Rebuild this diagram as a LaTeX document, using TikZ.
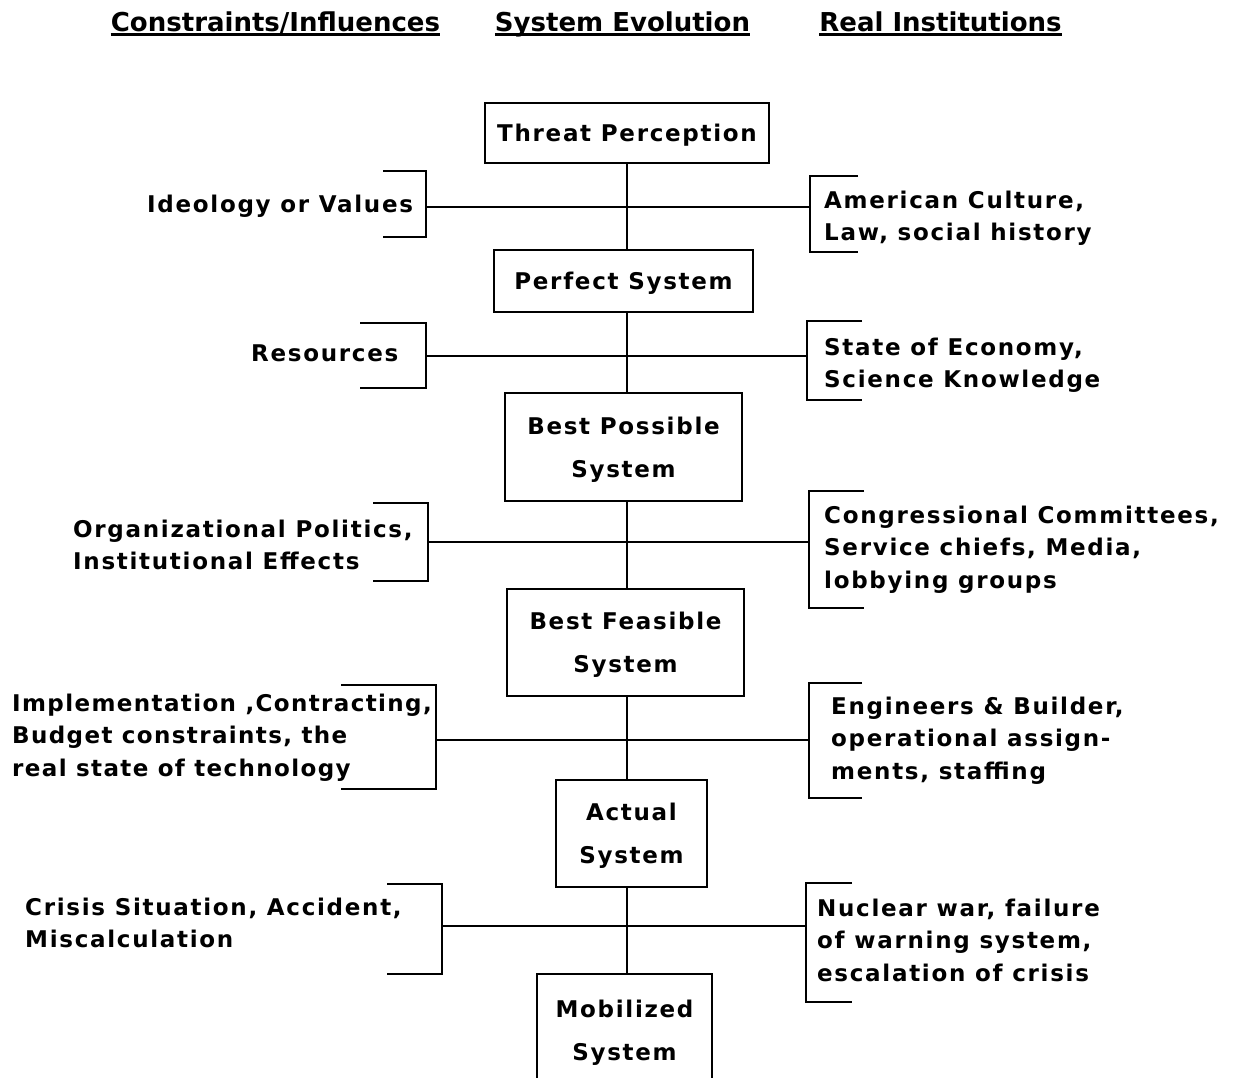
\documentclass[tikz,border=0pt]{standalone}
\usepackage{fontspec}
\setmainfont{DejaVu Sans}
\newfontfamily\bodyfont[LetterSpace=7.4]{DejaVu Sans}
\newfontfamily\tightfont[LetterSpace=6]{DejaVu Sans}
\newfontfamily\hdrfont{DejaVu Sans}
\tikzset{
  lab/.style={font=\bodyfont\bfseries\fontsize{23}{32.3}\selectfont, inner sep=0pt, anchor=north west, align=left},
  tightlab/.style={lab, font=\tightfont\bfseries\fontsize{23}{32.3}\selectfont},
  sysbox/.style={draw, line width=2pt, inner sep=0pt, text depth=0pt, align=center,
    font=\bodyfont\bfseries\fontsize{23}{43}\selectfont},
  hdr/.style={font=\hdrfont\bfseries\fontsize{26}{30}\selectfont, inner sep=0pt, anchor=base},
  ln/.style={line width=2pt},
  uline/.style={line width=2.5pt}
}
\begin{document}
\begin{tikzpicture}[x=1pt,y=-1pt]
\fill[white] (0,0) rectangle (1237,1078);
\useasboundingbox (0,0) rectangle (1237,1078);

% headers
\node[hdr] (h1) at (275.5,31.5) {Constraints/Influences};
\node[hdr] (h2) at (622.5,31.5) {System Evolution};
\node[hdr] (h3) at (940.5,31.5) {Real Institutions};
\draw[uline] ([yshift=-3pt]h1.base west) -- ([yshift=-3pt]h1.base east);
\draw[uline] ([yshift=-3pt]h2.base west) -- ([yshift=-3pt]h2.base east);
\draw[uline] ([yshift=-3pt]h3.base west) -- ([yshift=-3pt]h3.base east);

% system boxes
\node[sysbox, minimum width=284pt, minimum height=60pt] (tp) at (627,133) {Threat Perception};
\node[sysbox, minimum width=259pt, minimum height=62pt] (ps) at (623.5,281) {Perfect System};
\node[sysbox, minimum width=237pt, minimum height=108pt] (bp) at (623.5,447) {Best Possible\\System};
\node[sysbox, minimum width=237pt, minimum height=107pt] (bf) at (625.5,642.5) {Best Feasible\\System};
\node[sysbox, minimum width=151pt, minimum height=107pt] (as) at (631.5,833.5) {Actual\\System};
\node[sysbox, draw=none, minimum width=173pt, minimum height=110pt] (mob) at (624.5,1030) {Mobilized\\System};
\draw[ln] (mob.south west) -- (mob.north west) -- (mob.north east) -- (mob.south east);

% junctions
\coordinate (j1) at (627,207);
\coordinate (j2) at (627,356);
\coordinate (j3) at (627,542);
\coordinate (j4) at (627,740);
\coordinate (j5) at (627,926);

\draw[ln] (j1 |- tp.south) -- (j1 |- ps.north);
\draw[ln] (j2 |- ps.south) -- (j2 |- bp.north);
\draw[ln] (j3 |- bp.south) -- (j3 |- bf.north);
\draw[ln] (j4 |- bf.south) -- (j4 |- as.north);
\draw[ln] (j5 |- as.south) -- (j5 |- mob.north);

% row 1
\coordinate (L1t) at (383,171); \coordinate (L1a) at (426,171); \coordinate (L1m) at (426,207); \coordinate (L1b) at (426,237); \coordinate (L1u) at (383,237);
\coordinate (R1t) at (858,176); \coordinate (R1a) at (810,176); \coordinate (R1m) at (810,207); \coordinate (R1b) at (810,252); \coordinate (R1u) at (858,252);
% row 2
\coordinate (L2t) at (360,323); \coordinate (L2a) at (426,323); \coordinate (L2m) at (426,356); \coordinate (L2b) at (426,388); \coordinate (L2u) at (360,388);
\coordinate (R2t) at (862,321); \coordinate (R2a) at (807,321); \coordinate (R2m) at (807,356); \coordinate (R2b) at (807,400); \coordinate (R2u) at (862,400);
% row 3
\coordinate (L3t) at (373,503); \coordinate (L3a) at (428,503); \coordinate (L3m) at (428,542); \coordinate (L3b) at (428,581); \coordinate (L3u) at (373,581);
\coordinate (R3t) at (864,491); \coordinate (R3a) at (809,491); \coordinate (R3m) at (809,542); \coordinate (R3b) at (809,608); \coordinate (R3u) at (864,608);
% row 4
\coordinate (L4t) at (341,685); \coordinate (L4a) at (436,685); \coordinate (L4m) at (436,740); \coordinate (L4b) at (436,789); \coordinate (L4u) at (341,789);
\coordinate (R4t) at (862,683); \coordinate (R4a) at (809,683); \coordinate (R4m) at (809,740); \coordinate (R4b) at (809,798); \coordinate (R4u) at (862,798);
% row 5
\coordinate (L5t) at (387,884); \coordinate (L5a) at (442,884); \coordinate (L5m) at (442,926); \coordinate (L5b) at (442,974); \coordinate (L5u) at (387,974);
\coordinate (R5t) at (852,883); \coordinate (R5a) at (806,883); \coordinate (R5m) at (806,926); \coordinate (R5b) at (806,1002); \coordinate (R5u) at (852,1002);

\foreach \r in {1,...,5}{
  \draw[ln] (L\r t) -- (L\r a) -- (L\r b) -- (L\r u);
  \draw[ln] (R\r t) -- (R\r a) -- (R\r b) -- (R\r u);
  \draw[ln] (L\r m) -- (R\r m);
}

% left labels
\node[lab] (lt1) at (147,195) {Ideology or Values};
\node[lab] (lt2) at (251,345) {Resources};
\node[lab] (lt3) at (73,520) {Organizational Politics,\\Institutional Effects};
\node[tightlab] (lt4) at (12,694) {Implementation ,Contracting,\\Budget constraints, the\\real state of technology};
\node[lab] (lt5) at (25,898) {Crisis Situation, Accident,\\Miscalculation};

% right labels
\node[lab] (rt1) at (824,191) {American Culture,\\Law, social history};
\node[lab] (rt2) at (824,338) {State of Economy,\\Science Knowledge};
\node[lab] (rt3) at (824,506) {Congressional Committees,\\Service chiefs, Media,\\lobbying groups};
\node[lab] (rt4) at (831,697) {Engineers \& Builder,\\operational assign-\\ments, staffing};
\node[lab] (rt5) at (817,899) {Nuclear war, failure\\of warning system,\\escalation of crisis};
\end{tikzpicture}
\end{document}
